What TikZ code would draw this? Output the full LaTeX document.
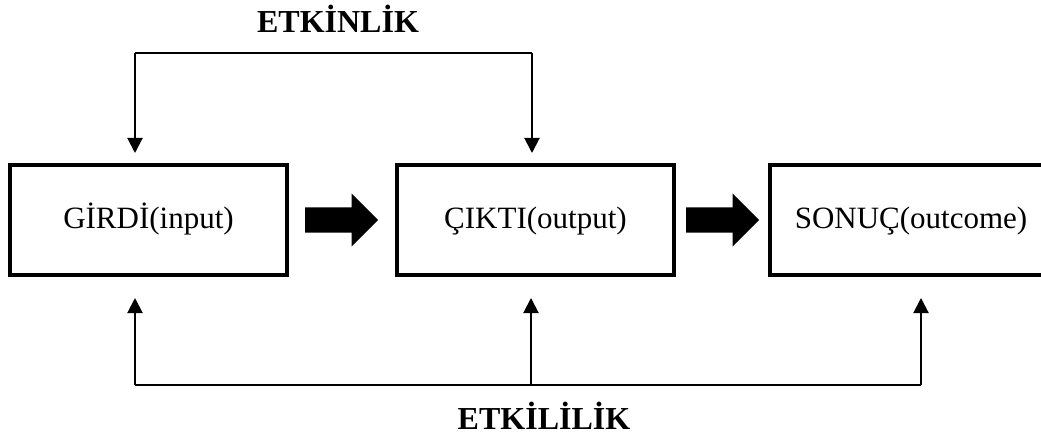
\documentclass[tikz,border=0pt]{standalone}
\usepackage{fontspec}
\setmainfont{Liberation Serif}
\usepackage{tikz}
\usetikzlibrary{arrows.meta,positioning,shapes.arrows}

\begin{document}
\begin{tikzpicture}[x=1pt,y=1pt,
kutu/.style={draw, line width=4pt, minimum width=277pt, minimum height=110pt,
  inner sep=0pt, font=\fontsize{31}{36}\selectfont, text height=23pt, text depth=5pt},
okblok/.style={single arrow, fill=black, draw=none, inner xsep=0pt, inner ysep=12.5pt,
  minimum height=73pt, single arrow head extend=14pt},
cizgi/.style={line width=2pt},
ok/.style={line width=2pt, -{Triangle[length=15pt,width=15pt]}},
baslik/.style={font=\bfseries\fontsize{32}{36}\selectfont, anchor=base}]
\useasboundingbox (0,0) rectangle (1041,434);
\node[kutu] (girdi) at (148.5,214) {GİRDİ(input)};
\node[kutu, right=106pt of girdi] (cikti) {ÇIKTI(output)};
\node[kutu, minimum width=282pt, right=92pt of cikti] (sonuc) {SONUÇ(outcome)};
\node[okblok, right=16pt of girdi] (ok1) {};
\node[okblok, right=10pt of cikti] (ok2) {};
\coordinate (ustsol) at (135,381);
\coordinate (ustsag) at (532,381);
\coordinate (altsol) at (135,49);
\coordinate (altorta) at (531,49);
\coordinate (altsag) at (921,49);
\draw[cizgi] (ustsol) -- (ustsag);
\draw[ok, shorten >=10pt] (ustsol) -- (girdi.north -| ustsol);
\draw[ok, shorten >=10pt] (ustsag) -- (cikti.north -| ustsag);
\draw[cizgi] (altsol) -- (altsag);
\draw[ok, shorten >=21pt] (altsol) -- (girdi.south -| altsol);
\draw[ok, shorten >=21pt] (altorta) -- (cikti.south -| altorta);
\draw[ok, shorten >=21pt] (altsag) -- (sonuc.south -| altsag);
\node[baslik] (etkinlik) at (338,401) {ETKİNLİK};
\node[baslik] (etkililik) at (544,5) {ETKİLİLİK};
\end{tikzpicture}
\end{document}
